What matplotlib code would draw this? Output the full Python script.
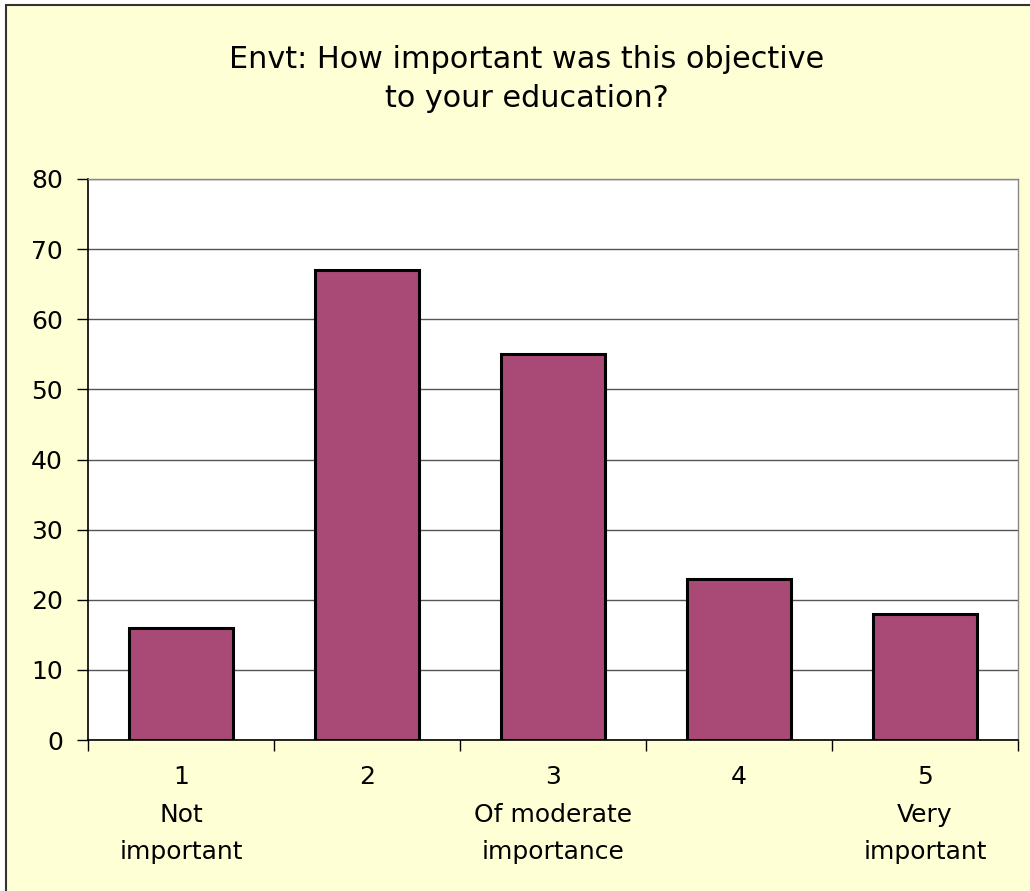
import matplotlib.pyplot as plt
from matplotlib.patches import Rectangle

categories = ['1\nNot\nimportant', '2', '3\nOf moderate\nimportance', '4', '5\nVery\nimportant']
counts = [16, 67, 55, 23, 18]
yticks = [0, 10, 20, 30, 40, 50, 60, 70, 80]

bg = '#FFFFD6'
bar_color = '#A94A76'

fig = plt.figure(figsize=(10.30, 8.91), dpi=100, facecolor='white')
# chart area background with border on top/left only (right/bottom run off the image)
fig.patches.append(Rectangle((6 / 1030, -0.1), 1.2, 1.1 - 5 / 891, transform=fig.transFigure,
                             facecolor=bg, edgecolor='#333333', linewidth=1.5, zorder=-5))

ax = fig.add_axes([88 / 1030, 1 - 740 / 891, (1018 - 88) / 1030, (740 - 179) / 891])
ax.set_facecolor('white')

x = list(range(len(counts)))
ax.bar(x, counts, width=0.56, color=bar_color, edgecolor='black', linewidth=2.2, zorder=3)

ax.set_xlim(-0.5, len(counts) - 0.5)
ax.set_ylim(0, 80)
ax.set_yticks(yticks)
ax.set_yticklabels([str(v) for v in yticks], fontsize=18)
ax.grid(axis='y', color='#555555', linewidth=1, zorder=1)

# x ticks sit at category boundaries, labels at centres
ax.set_xticks([i - 0.5 for i in range(len(counts) + 1)])
ax.set_xticklabels([])
ax.set_xticks(x, minor=True)
ax.set_xticklabels(categories, minor=True, fontsize=18, linespacing=1.72)
ax.tick_params(axis='x', which='minor', length=0, pad=18)
ax.tick_params(axis='x', which='major', length=8, width=1, color='black', direction='out')
ax.tick_params(axis='y', length=8, width=1, pad=10, direction='out')

for side in ['top', 'right']:
    ax.spines[side].set_color('#888888')
    ax.spines[side].set_linewidth(1)
for side in ['left', 'bottom']:
    ax.spines[side].set_color('black')
    ax.spines[side].set_linewidth(1.2)

fig.text(527 / 1030, 1 - 79 / 891, 'Envt: How important was this objective\nto your education?',
         ha='center', va='center', fontsize=21.8, linespacing=1.45)

fig.savefig('out.png', dpi=100, facecolor=fig.get_facecolor())
